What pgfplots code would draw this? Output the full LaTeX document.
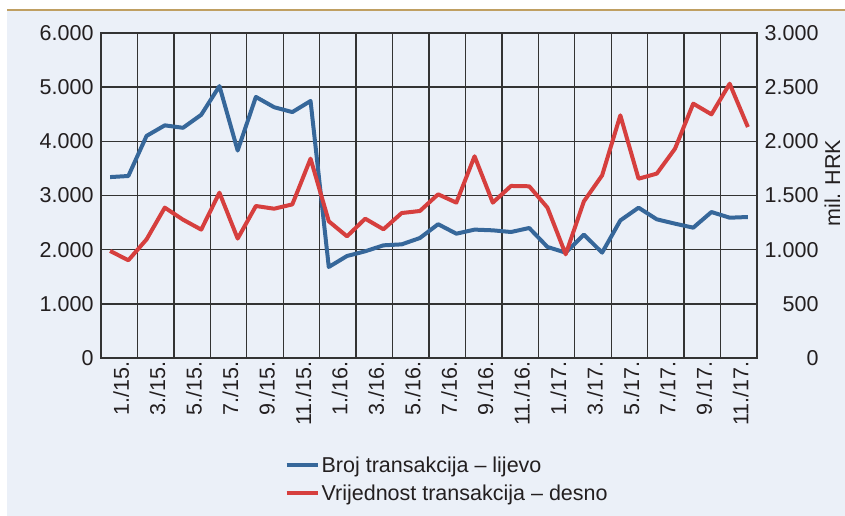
\documentclass[border=0pt]{standalone}
\usepackage{pgfplots}
\pgfplotsset{compat=1.18}
\usepackage{fontspec}
\setmainfont{Liberation Sans}
\definecolor{cBg}{HTML}{EBF0F8}
\definecolor{cTop}{HTML}{BF9F62}
\definecolor{cGrid}{HTML}{333333}
\definecolor{cTxt}{HTML}{231F20}
\definecolor{cBroj}{HTML}{36679A}
\definecolor{cVrij}{HTML}{D63F3E}

\newcommand{\fs}{\fontsize{21.5}{24}\selectfont}

\pgfplotsset{
  base/.style={
    at={(101pt,158pt)}, anchor=south west,
    scale only axis, width=656pt, height=325pt,
    xmin=0, xmax=36,
    tick style={draw=none},
    axis line style={cGrid, line width=1.4pt},
    grid style={cGrid, line width=1.4pt},
    ticklabel style={font=\fs, text=cTxt},
    /pgf/number format/assume math mode=true,
    /pgf/number format/1000 sep={.},
    scaled y ticks=false,
  },
}

\begin{document}
\begin{tikzpicture}
\clip (0,0) rectangle (845pt,516pt);
\useasboundingbox (0,0) rectangle (845pt,516pt);
\fill[white] (0,0) rectangle (845pt,516pt);
\fill[cBg] (7pt,0) rectangle (845pt,505pt);
\draw[cTop, line width=2.5pt] (7pt,506pt) -- (845pt,506pt);

\begin{axis}[base,
    ymin=0, ymax=6000, ytick={0,1000,...,6000},
    ymajorgrids,
    xtick={0.5,2.5,...,34.5},
    xticklabels={1./15.,3./15.,5./15.,7./15.,9./15.,11./15.,1./16.,3./16.,5./16.,7./16.,9./16.,11./16.,1./17.,3./17.,5./17.,7./17.,9./17.,11./17.},
    extra x ticks={2,4,...,34},
    extra x tick labels={},
    extra x tick style={grid=major, major grid style={cGrid, line width=1.4pt}},
    xticklabel style={rotate=90, anchor=east, yshift=-11pt},
    yticklabel style={xshift=-4pt},
    legend style={draw=none, fill=none, at={(axis description cs:0.275,-0.29)}, anchor=north west,
      font=\fs, text=cTxt, row sep=7pt,
      nodes={inner sep=2pt}},
    legend cell align=left,
    legend image code/.code={\draw[#1] (0pt,0pt) -- (31pt,0pt);},
]
\addplot[color=cBroj, line width=4pt, line join=round] coordinates {
(0.5,3340) (1.5,3360) (2.5,4100) (3.5,4295) (4.5,4250) (5.5,4490) (6.5,5020) (7.5,3830) (8.5,4820) (9.5,4630) (10.5,4540) (11.5,4745)
(12.5,1680) (13.5,1883) (14.5,1970) (15.5,2080) (16.5,2098) (17.5,2215) (18.5,2470) (19.5,2295) (20.5,2370) (21.5,2357) (22.5,2326) (23.5,2400)
(24.5,2050) (25.5,1945) (26.5,2277) (27.5,1945) (28.5,2540) (29.5,2775) (30.5,2560) (31.5,2480) (32.5,2406) (33.5,2695) (34.5,2590) (35.5,2603)};
\addlegendentry{Broj transakcija – lijevo}
\addlegendimage{color=cVrij, line width=4pt}
\addlegendentry{Vrijednost transakcija – desno}
\end{axis}

\begin{axis}[base,
    axis x line=none, axis y line*=right,
    ymin=0, ymax=3000, ytick={0,500,...,3000},
    yticklabel style={anchor=east, xshift=65pt},
    ylabel={mil. HRK},
    ylabel style={at={(axis description cs:1.115,0.538)}, anchor=center,
      font=\fs, text=cTxt},
]
\addplot[color=cVrij, line width=4pt, line join=round] coordinates {
(0.5,988) (1.5,902) (2.5,1095) (3.5,1388) (4.5,1277) (5.5,1185) (6.5,1526) (7.5,1102) (8.5,1403) (9.5,1378) (10.5,1418) (11.5,1840)
(12.5,1262) (13.5,1123) (14.5,1286) (15.5,1188) (16.5,1338) (17.5,1357) (18.5,1511) (19.5,1434) (20.5,1862) (21.5,1434) (22.5,1588) (23.5,1585)
(24.5,1388) (25.5,957) (26.5,1446) (27.5,1686) (28.5,2240) (29.5,1655) (30.5,1702) (31.5,1932) (32.5,2348) (33.5,2249) (34.5,2532) (35.5,2132)};
\end{axis}
\end{tikzpicture}
\end{document}
